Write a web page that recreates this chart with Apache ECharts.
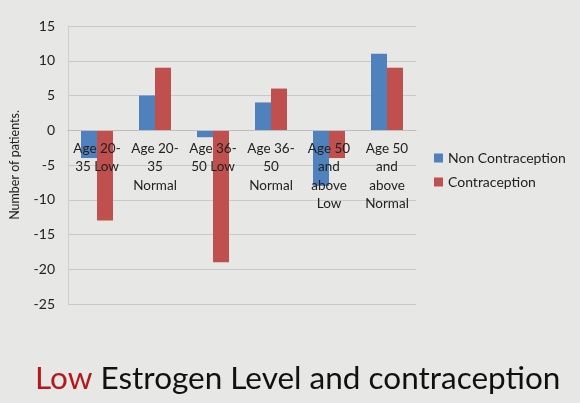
<!DOCTYPE html>
<html><head><meta charset="utf-8">
<script src="https://cdn.jsdelivr.net/npm/echarts@6/dist/echarts.min.js"></script>
<style>html,body{margin:0;padding:0;background:#e7e7e5;}#c{width:580px;height:403px;}</style>
</head><body><div id="c"></div>
<script>
const categories = ["Age 20-\n35 Low", "Age 20-\n35\nNormal", "Age 36-\n50 Low", "Age 36-\n50\nNormal", "Age 50\nand\nabove\nLow", "Age 50\nand\nabove\nNormal"];
const nonContraception = [-4, 5, -1, 4, -8, 11];
const contraception = [-13, 9, -19, 6, -4, 9];
const seriesNames = ["Non Contraception", "Contraception"];
const yMin = -25, yMax = 15, yStep = 5;

const chart = echarts.init(document.getElementById('c'));
const font = 'Lato';
const gridTop = 26, gridBottom = 99, H = 403;
const plotH = H - gridTop - gridBottom;
// move the category axis up to the zero line
const zeroOffset = -plotH * (0 - yMin) / (yMax - yMin);
chart.setOption({
  backgroundColor: '#e7e7e5',
  animation: false,
  title: {
    text: '{r|Low} Estrogen Level and contraception',
    left: 30, top: 358,
    textStyle: { fontFamily: font, fontSize: 31.5, fontWeight: 'normal', color: '#111',
      rich: { r: { fontFamily: font, fontSize: 31.5, color: '#b3191c' } } }
  },
  legend: {
    orient: 'vertical', left: 429, top: 146, itemWidth: 9, itemHeight: 9, itemGap: 10,
    icon: 'rect',
    textStyle: { fontFamily: font, fontSize: 14, color: '#222' },
    data: seriesNames
  },
  grid: { left: 67, right: 164, top: gridTop, bottom: gridBottom, containLabel: false },
  xAxis: {
    type: 'category', data: categories, position: 'bottom', offset: zeroOffset,
    axisLine: { onZero: false, lineStyle: { color: '#bdbdbd' } },
    axisTick: { show: false },
    axisLabel: { interval: 0, fontFamily: font, fontSize: 13.5, lineHeight: 18.5, color: '#222', margin: 9 },
    z: 10
  },
  yAxis: {
    type: 'value', min: yMin, max: yMax, interval: yStep,
    name: 'Number of patients.', nameLocation: 'middle', nameGap: 47,
    nameTextStyle: { fontFamily: font, fontSize: 12.5, color: '#222' },
    axisLine: { show: true, lineStyle: { color: '#cfcfcf' } },
    axisTick: { show: false },
    axisLabel: { fontFamily: font, fontSize: 14, color: '#222', margin: 13 },
    splitLine: { lineStyle: { color: '#c9c9c9' } }
  },
  series: [
    { name: seriesNames[0], type: 'bar', data: nonContraception, barWidth: 16, barGap: '0%', itemStyle: { color: '#4f81bd' } },
    { name: seriesNames[1], type: 'bar', data: contraception, barWidth: 16, itemStyle: { color: '#c0504d' } }
  ]
});
</script></body></html>
